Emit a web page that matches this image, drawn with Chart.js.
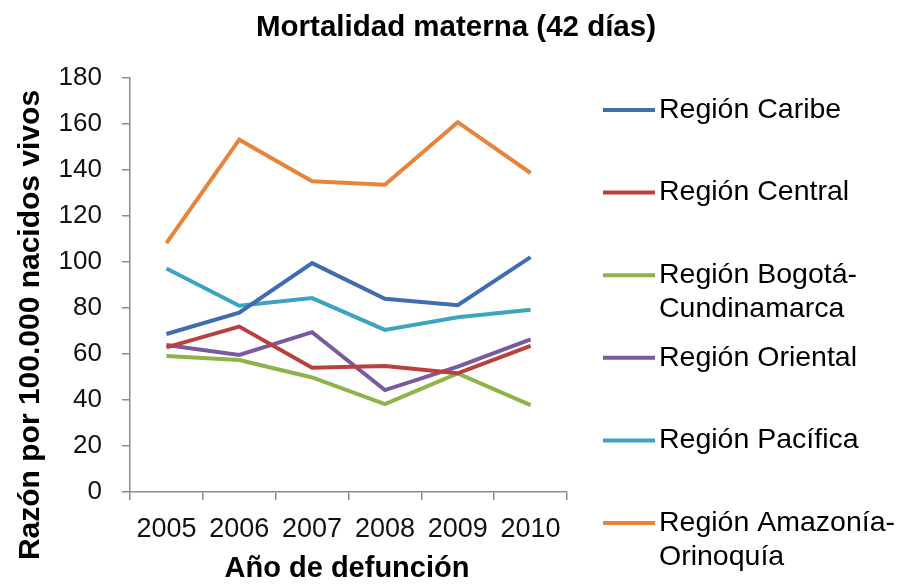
<!DOCTYPE html>
<html lang="es">
<head>
<meta charset="utf-8">
<title>Mortalidad materna (42 días)</title>
<script src="https://cdn.jsdelivr.net/npm/chart.js@4.4.0/dist/chart.umd.min.js"></script>
<style>
  html, body { margin: 0; padding: 0; background: #fff; }
  #wrap { width: 905px; height: 584px; }
</style>
</head>
<body>
<div id="wrap"><canvas id="chart" width="905" height="584"></canvas></div>
<script>
const years = ['2005', '2006', '2007', '2008', '2009', '2010'];

const caribe    = [68.7, 78.0, 99.5, 84.0, 81.2, 102.1];
const central   = [62.9, 71.9, 54.0, 54.8, 51.6, 63.5];
const bogota    = [59.1, 57.4, 49.8, 38.2, 51.6, 37.8];
const oriental  = [63.9, 59.6, 69.5, 44.3, 54.5, 66.4];
const pacifica  = [97.2, 81.0, 84.3, 70.5, 76.0, 79.2];
const amazonia  = [108.2, 153.2, 135.1, 133.6, 160.8, 138.7];

const yTicks = [0, 20, 40, 60, 80, 100, 120, 140, 160, 180];

const chartTitle = 'Mortalidad materna (42 días)';
const xTitle = 'Año de defunción';
const yTitle = 'Razón por 100.000 nacidos vivos';

const FONT = '"Liberation Sans", Arial, sans-serif';

function series(label, data, color) {
    return {
        label: label,
        data: data,
        borderColor: color,
        backgroundColor: color,
        borderWidth: 4,
        pointRadius: 0,
        tension: 0,
        fill: false
    };
}

// titles + legend drawn by hand so they sit where the original has them
const extrasPlugin = {
    id: 'extras',
    afterDraw(chart) {
        const ctx = chart.ctx;
        ctx.save();
        ctx.fillStyle = '#000';
        ctx.textAlign = 'center';
        ctx.textBaseline = 'middle';
        ctx.font = 'bold 29.5px ' + FONT;
        ctx.fillText(chartTitle, 456, 28);
        ctx.font = 'bold 29px ' + FONT;
        ctx.fillText(xTitle, 347, 569);
        ctx.font = 'bold 30px ' + FONT;
        ctx.translate(31, 325);
        ctx.rotate(-Math.PI / 2);
        ctx.fillText(yTitle, 0, 0);
        ctx.restore();

        ctx.save();
        ctx.font = '28.5px ' + FONT;
        ctx.textAlign = 'left';
        ctx.textBaseline = 'middle';
        chart.data.datasets.forEach((ds, i) => {
            const y = 110 + i * 82.6;
            ctx.strokeStyle = ds.borderColor;
            ctx.lineWidth = 4;
            ctx.beginPath();
            ctx.moveTo(603, y);
            ctx.lineTo(655, y);
            ctx.stroke();
            ctx.fillStyle = '#000';
            ds.label.split('\n').forEach((line, j) => {
                ctx.fillText(line, 659, y + j * 34);
            });
        });
        ctx.restore();
    }
};

new Chart(document.getElementById('chart'), {
    type: 'line',
    data: {
        labels: years,
        datasets: [
            series('Región Caribe', caribe, '#3F6DAF'),
            series('Región Central', central, '#B9403D'),
            series('Región Bogotá-\nCundinamarca', bogota, '#8DB44B'),
            series('Región Oriental', oriental, '#7A5A9F'),
            series('Región Pacífica', pacifica, '#3DA4BF'),
            series('Región Amazonía-\nOrinoquía', amazonia, '#E5843A')
        ]
    },
    options: {
        responsive: false,
        animation: false,
        layout: { padding: { left: 0, top: 78, right: 338, bottom: 32 } },
        plugins: {
            legend: { display: false },
            title: { display: false },
            tooltip: { enabled: false }
        },
        scales: {
            x: {
                offset: true,
                grid: {
                    offset: true,
                    drawOnChartArea: false,
                    drawTicks: true,
                    tickLength: 8,
                    color: '#8C8C8C',
                    lineWidth: 1.5
                },
                border: { color: '#8C8C8C', width: 1.5 },
                ticks: {
                    padding: 13,
                    color: '#111',
                    font: { family: FONT, size: 27 },
                    maxRotation: 0,
                    autoSkip: false
                },
                afterFit(scale) { scale.height = 60; }
            },
            y: {
                min: 0,
                max: 180,
                afterBuildTicks(scale) {
                    scale.ticks = yTicks.map(v => ({ value: v }));
                },
                grid: {
                    drawOnChartArea: false,
                    drawTicks: true,
                    tickLength: 8,
                    color: '#8C8C8C',
                    lineWidth: 1.5
                },
                border: { color: '#8C8C8C', width: 1.5 },
                ticks: {
                    padding: 20,
                    color: '#111',
                    font: { family: FONT, size: 26 }
                },
                afterFit(scale) { scale.width = 130; }
            }
        }
    },
    plugins: [extrasPlugin]
});
</script>
</body>
</html>
